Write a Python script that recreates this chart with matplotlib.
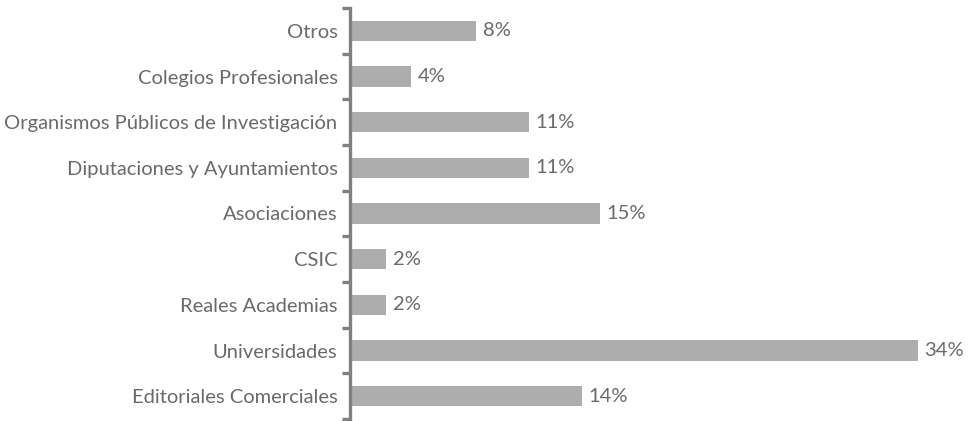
import matplotlib
matplotlib.use("Agg")
import matplotlib.pyplot as plt

categories = ["Editoriales Comerciales", "Universidades", "Reales Academias", "CSIC",
              "Asociaciones", "Diputaciones y Ayuntamientos",
              "Organismos Públicos de Investigación", "Colegios Profesionales", "Otros"]
values = [13.95, 34.32, 2.06, 2.06, 15.04, 10.73, 10.73, 3.58, 7.52]
value_labels = ["14%", "34%", "2%", "2%", "15%", "11%", "11%", "4%", "8%"]

plt.rcParams['font.family'] = ['Lato', 'DejaVu Sans']

W, H = 968, 421
fig = plt.figure(figsize=(W / 100, H / 100), dpi=100)
left_px, right_px = 350, 950
top_px, bot_px = 8, 419
ax = fig.add_axes([left_px / W, (H - bot_px) / H, (right_px - left_px) / W, (bot_px - top_px) / H])

bar_color = "#adadad"
text_color = "#6a6a6a"
axis_color = "#808080"

y = list(range(len(categories)))
ax.barh(y, values, height=0.45, color=bar_color, left=0.1)
ax.set_ylim(-0.5, len(categories) - 0.5)
scale = 16.49
ax.set_xlim(0, (right_px - left_px) / scale)

for yi, v, lab in zip(y, values, value_labels):
    ax.annotate(lab, (v + 0.1, yi), xytext=(5, 0), textcoords="offset points",
                va="center", ha="left", fontsize=14.5, color=text_color)

for s in ["top", "right", "bottom"]:
    ax.spines[s].set_visible(False)
ax.spines["left"].set_color(axis_color)
ax.spines["left"].set_linewidth(2.4)
ax.set_xticks([])

ax.set_yticks([i - 0.5 for i in range(len(categories) + 1)], minor=False)
ax.set_yticklabels([])
ax.tick_params(axis="y", which="major", length=6, width=2.4, color=axis_color)
ax.set_yticks(y, minor=True)
ax.set_yticklabels(categories, minor=True)
ax.tick_params(axis="y", which="minor", length=0, pad=9, labelsize=14.5, labelcolor=text_color)

fig.savefig("out.png", dpi=100)
